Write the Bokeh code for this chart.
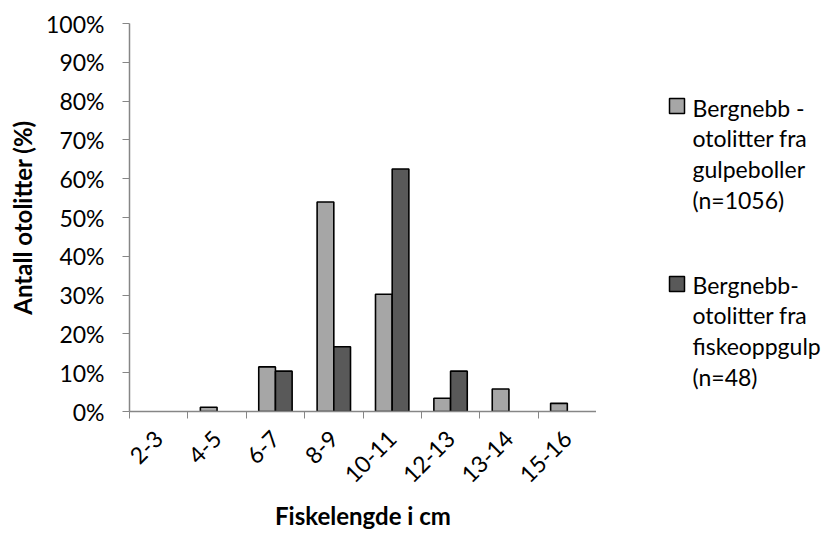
import math
from bokeh.plotting import figure
from bokeh.layouts import row
from bokeh.models import (Range1d, FixedTicker, ColumnDataSource, Label, BoxAnnotation,
                          CDSView, BooleanFilter)
from bokeh.transform import dodge
from bokeh.embed import file_html
from bokeh.resources import INLINE

# ---- data ----
categories = ["2-3", "4-5", "6-7", "8-9", "10-11", "12-13", "13-14", "15-16"]
gulpeboller = [0.0, 1.1, 11.5, 54.0, 30.2, 3.4, 5.8, 2.1]      # % light grey
fiskeoppgulp = [0.0, 0.0, 10.4, 16.7, 62.5, 10.4, 0.0, 0.0]    # % dark grey
y_ticks = [0, 10, 20, 30, 40, 50, 60, 70, 80, 90, 100]
series_labels = [
    "Bergnebb -\notolitter fra\ngulpeboller\n(n=1056)",
    "Bergnebb-\notolitter fra\nfiskeoppgulp\n(n=48)",
]
series_colors = ["#A6A6A6", "#595959"]
x_title = "Fiskelengde i cm"
y_title = "Antall otolitter (%)"

FONT = "Lato"
FS = "23px"
FS_T = "24px"

n = len(categories)
centers = [i + 0.5 for i in range(n)]
bounds = [i for i in range(n + 1)]

src = ColumnDataSource(dict(x=centers, a=gulpeboller, b=fiskeoppgulp))
view_a = CDSView(filter=BooleanFilter([v > 0 for v in gulpeboller]))
view_b = CDSView(filter=BooleanFilter([v > 0 for v in fiskeoppgulp]))

p = figure(width=596, height=533, output_backend="svg", toolbar_location=None,
           x_range=Range1d(0, n), y_range=Range1d(0, 100),
           min_border_left=129, min_border_right=0, min_border_top=23,
           min_border_bottom=121)
p.outline_line_color = None
p.grid.visible = False
p.background_fill_color = "white"
p.border_fill_color = "white"

bw = 0.286
r1 = p.vbar(x=dodge("x", -bw / 2, range=p.x_range), top="a", width=bw, source=src,
            view=view_a, fill_color=series_colors[0], line_color="black", line_width=1.6)
r2 = p.vbar(x=dodge("x", bw / 2, range=p.x_range), top="b", width=bw, source=src,
            view=view_b, fill_color=series_colors[1], line_color="black", line_width=1.6)

# axes
xa = p.xaxis[0]
xa.ticker = FixedTicker(ticks=centers, minor_ticks=bounds)
xa.major_label_overrides = {c: lab for c, lab in zip(centers, categories)}
xa.major_tick_out = 0
xa.major_tick_in = 0
xa.minor_tick_out = 7
xa.minor_tick_in = 0
xa.minor_tick_line_color = "#868686"
xa.axis_line_color = "#868686"
xa.axis_line_width = 1.5
xa.major_label_orientation = math.pi / 4
xa.major_label_text_font = FONT
xa.major_label_text_font_size = FS
xa.major_label_text_color = "black"
xa.major_label_standoff = 16
xa.axis_label = x_title
xa.axis_label_text_font = FONT
xa.axis_label_text_font_style = "bold"
xa.axis_label_text_font_size = FS_T
xa.axis_label_text_color = "black"
xa.axis_label_standoff = 8

ya = p.yaxis[0]
ya.ticker = FixedTicker(ticks=y_ticks, minor_ticks=[])
ya.major_label_overrides = {t: f"{t}%" for t in y_ticks}
ya.major_tick_out = 7
ya.major_tick_in = 0
ya.major_tick_line_color = "#868686"
ya.axis_line_color = "#868686"
ya.axis_line_width = 1.5
ya.major_label_text_font = FONT
ya.major_label_text_font_size = FS
ya.major_label_text_color = "black"
ya.major_label_standoff = 18
ya.axis_label = y_title
ya.axis_label_text_font = FONT
ya.axis_label_text_font_style = "bold"
ya.axis_label_text_font_size = FS_T
ya.axis_label_text_color = "black"
ya.axis_label_standoff = 6

# legend panel (separate figure to the right); its frame is aligned with the
# main frame, so screen units are measured from the shared frame bottom-left
leg = figure(width=235, height=533, output_backend="svg", toolbar_location=None,
             x_range=Range1d(0, 1), y_range=Range1d(0, 1),
             min_border_left=0, min_border_right=0,
             min_border_top=23, min_border_bottom=121)
leg.axis.visible = False
leg.grid.visible = False
leg.outline_line_color = None
leg.background_fill_color = "white"
leg.border_fill_color = "white"

leg_boxes = [(73, 298, 313), (73, 120, 135)]
leg_text = [(96, 318), (96, 141)]
for (l, b, t), (tx, ty), lab, col in zip(leg_boxes, leg_text, series_labels, series_colors):
    leg.add_layout(BoxAnnotation(left=l, right=l + 15, bottom=b, top=t,
                                 left_units="screen", right_units="screen",
                                 bottom_units="screen", top_units="screen",
                                 fill_color=col, fill_alpha=1, line_color="black",
                                 line_width=1.5, line_alpha=1))
    leg.add_layout(Label(x=tx, y=ty, x_units="screen", y_units="screen", text=lab,
                         text_font=FONT, text_font_size=FS, text_color="black",
                         text_baseline="top", text_align="left", text_line_height=1.1))

layout = row(p, leg, spacing=0)
open("out.html", "w").write(file_html(layout, INLINE))
